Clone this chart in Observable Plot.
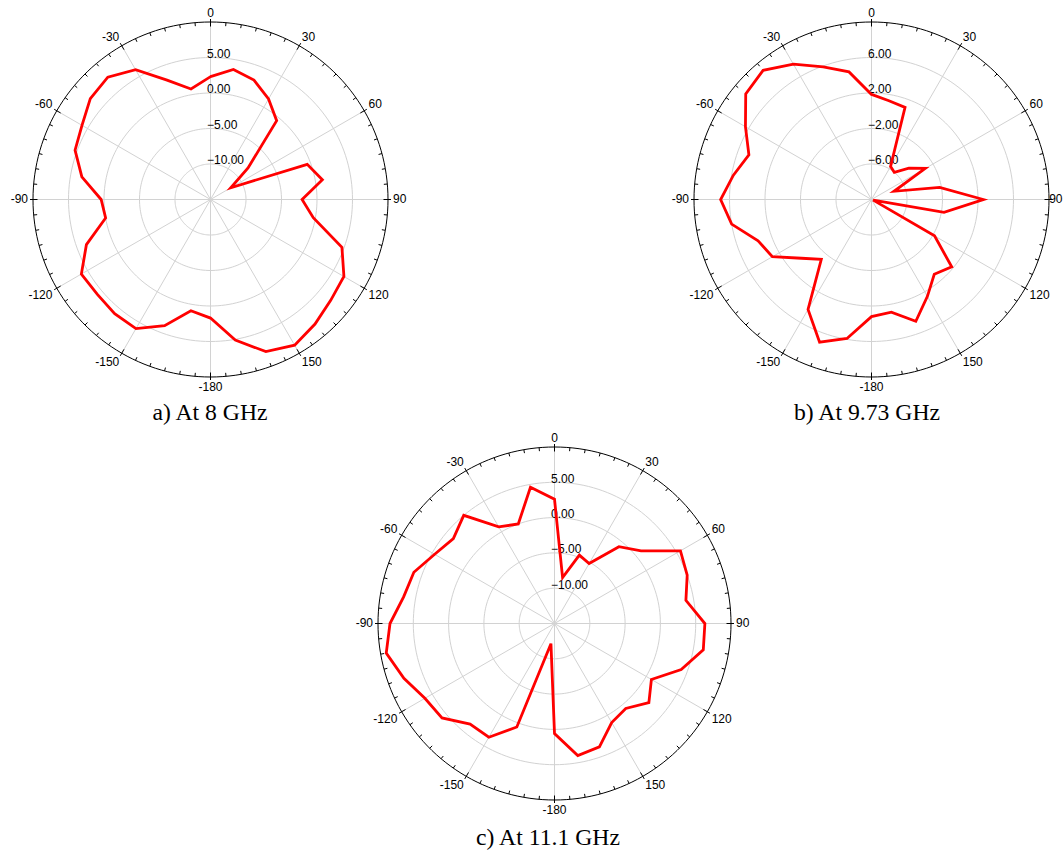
<!DOCTYPE html>
<html>
<head>
<meta charset="utf-8">
<script src="https://cdn.jsdelivr.net/npm/d3@7"></script>
<script src="https://cdn.jsdelivr.net/npm/@observablehq/plot@0.6"></script>
<style>
html, body { margin: 0; padding: 0; background: #fff; overflow: hidden; }
#root { position: relative; width: 1063px; height: 852px; overflow: hidden; }
.panel { position: absolute; width: 420px; height: 400px; }
.panel svg { display: block; overflow: visible; max-width: none !important; width: 420px !important; height: 400px !important; }
.cap { position: absolute; font-family: "Liberation Serif", "Times New Roman", serif; font-size: 23.7px; line-height: 1; color: #000; white-space: nowrap; transform: translateX(-50%); }
</style>
</head>
<body>
<div id="root"></div>
<script>
// Measurement angles (degrees, clockwise from top): 0, 10, ..., 350
const angles = d3.range(0, 360, 10);

// Series values in dB, in the order of `angles`
const gain8GHz = [2.3, 3.6, 2.9, 1.35, -0.5, -8.1, -11.7, -0.5, 1.0, -2.1, -0.3, 4.7,
  6.7, 7.1, 7.9, 8.7, 7.8, 5.1, 1.7, 0.9, 3.9, 6.0, 6.0, 5.8,
  6.0, 3.6, 0.0, 0.4, 3.4, 5.3, 5.9, 7.1, 7.5, 6.1, 2.9, 0.8];
const gain973GHz = [1.84, 1.3, 1.05, -5.7, -6.0, -4.5, -3.0, -7.3, -2.2, 2.6, -1.7, -9.8,
  -1.8, 1.8, 1.0, 2.6, 4.6, 2.9, 3.2, 5.9, 7.1, 4.3, -1.2, 0.3,
  2.9, 3.6, 6.0, 7.0, 5.8, 4.7, 6.4, 8.5, 9.0, 7.6, 5.9, 4.6];
const gain111GHz = [2.6, -8.4, -4.7, -5.2, -0.8, 1.0, 5.6, 5.0, 3.9, 6.3, 6.4, 4.1,
  0.85, 2.45, 0.7, 1.2, 3.6, 4.0, 0.6, -12.1, 0.6, 3.6, 3.6, 5.8,
  6.2, 7.7, 9.2, 8.3, 6.7, 6.2, 4.6, 3.7, 5.0, 0.8, 0.0, 4.6];

// Angular axis labels
const angleTickPositions = [0, 30, 60, 90, 120, 150, 180, 210, 240, 270, 300, 330];
const angleTickLabels = ["0", "30", "60", "90", "120", "150", "-180", "-150", "-120", "-90", "-60", "-30"];

// Radial axes
const radialTicksA = [-10, -5, 0, 5];
const radialTicksB = [-6, -2, 2, 6];
const radialTicksC = [-10, -5, 0, 5];
const radialMinA = -15, radialMaxA = 10;
const radialMinB = -10, radialMaxB = 10;
const radialMinC = -15, radialMaxC = 10;

const captions = ["a) At 8 GHz", "b) At 9.73 GHz", "c) At 11.1 GHz"];

const rad = d => d * Math.PI / 180;

function polarChart(values, rMin, rMax, rings, R, W, H, rightEdgePx) {
  const rn = v => (Math.max(v, rMin) - rMin) / (rMax - rMin);
  const px = (r, a) => r * Math.sin(rad(a));
  const py = (r, a) => r * Math.cos(rad(a));
  const pts = angles.map((a, i) => ({a, v: values[i]}));
  const circ = d3.range(0, 361, 2);
  const ringData = rings.flatMap(v => circ.map(a => ({v, a})));
  const outerData = circ.map(a => ({v: rMax, a}));
  const spokes = d3.range(0, 360, 30);
  const ticks = d3.range(0, 360, 5).map(a => ({a, major: a % 30 === 0}));
  const labels = angleTickPositions.map((a, i) => ({a, label: angleTickLabels[i]}));
  const lr = (R + 5) / R;
  const clampRight = rightEdgePx != null;
  const groups = [
    {f: a => a === 0, ta: "middle", la: "bottom"},
    {f: a => a === 180, ta: "middle", la: "top"},
    {f: a => a === 90, ta: clampRight ? "end" : "start", la: "middle",
      x: clampRight ? () => (rightEdgePx - W / 2) / R : null},
    {f: a => a === 270, ta: "end", la: "middle"},
    {f: a => a > 0 && a < 90, ta: "start", la: "bottom"},
    {f: a => a > 90 && a < 180, ta: "start", la: "top"},
    {f: a => a > 180 && a < 270, ta: "end", la: "top"},
    {f: a => a > 270, ta: "end", la: "bottom"}
  ];
  const font = "Liberation Sans, Arial, Helvetica, sans-serif";
  return Plot.plot({
    width: W, height: H, margin: 0,
    style: {background: "transparent", fontFamily: font, fontSize: "12px", color: "#000"},
    x: {domain: [-W / 2 / R, W / 2 / R], range: [0, W], axis: null},
    y: {domain: [-H / 2 / R, H / 2 / R], range: [H, 0], axis: null},
    marks: [
      Plot.line(ringData, {x: d => px(rn(d.v), d.a), y: d => py(rn(d.v), d.a), z: "v", stroke: "#d2d2d2", strokeWidth: 1, curve: "linear"}),
      Plot.link(spokes, {x1: () => 0, y1: () => 0, x2: a => px(1, a), y2: a => py(1, a), stroke: "#d2d2d2", strokeWidth: 1}),
      Plot.line(outerData, {x: d => px(rn(d.v), d.a), y: d => py(rn(d.v), d.a), stroke: "#000", strokeWidth: 1, curve: "linear"}),
      Plot.link(ticks, {
        x1: d => px(1 + (d.major ? 3 : 0) / R, d.a), y1: d => py(1 + (d.major ? 3 : 0) / R, d.a),
        x2: d => px(1 - (d.major ? 4.5 : 3.5) / R, d.a), y2: d => py(1 - (d.major ? 4.5 : 3.5) / R, d.a),
        stroke: "#000", strokeWidth: 1
      }),
      ...groups.map(g => Plot.text(labels.filter(d => g.f(d.a)), {
        x: g.x || (d => px(lr, d.a)), y: d => py(lr, d.a), text: "label",
        textAnchor: g.ta, lineAnchor: g.la, fontSize: 12, fill: "#000"
      })),
      Plot.text(rings, {x: () => 0, y: v => rn(v), text: v => d3.format(".2f")(v), textAnchor: "start", lineAnchor: "middle", dx: -3.5, dy: -3.5, fontSize: 12, fill: "#000"}),
      Plot.line(pts, {x: d => px(rn(d.v), d.a), y: d => py(rn(d.v), d.a), curve: "linear-closed", stroke: "#ff0000", strokeWidth: 2.8, strokeLinejoin: "miter", strokeMiterlimit: 4})
    ]
  });
}

const root = document.getElementById("root");
function place(node, left, top) {
  const div = document.createElement("div");
  div.className = "panel";
  div.style.left = left + "px";
  div.style.top = top + "px";
  div.appendChild(node);
  root.appendChild(div);
}
function caption(text, cx, top) {
  const div = document.createElement("div");
  div.className = "cap";
  div.style.left = cx + "px";
  div.style.top = top + "px";
  div.textContent = text;
  root.appendChild(div);
}

place(polarChart(gain8GHz, radialMinA, radialMaxA, radialTicksA, 177.5, 420, 400), 0, -1);
place(polarChart(gain973GHz, radialMinB, radialMaxB, radialTicksB, 177.5, 420, 400, 1062 - 661), 661, -1);
place(polarChart(gain111GHz, radialMinC, radialMaxC, radialTicksC, 176.5, 420, 400), 344, 423);

caption(captions[0], 210, 401);
caption(captions[1], 867, 401);
caption(captions[2], 548, 826);
</script>
</body>
</html>
